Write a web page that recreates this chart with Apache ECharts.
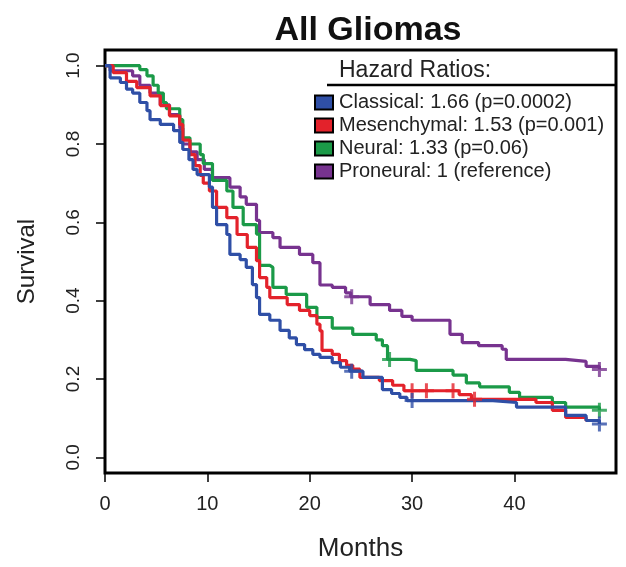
<!DOCTYPE html>
<html>
<head>
<meta charset="utf-8">
<script src="https://cdn.jsdelivr.net/npm/echarts@6/dist/echarts.min.js"></script>
<style>
  html, body { margin: 0; padding: 0; background: #fff; }
  #chart { width: 626px; height: 567px; }
</style>
</head>
<body>
<div id="chart"></div>
<script>
// Kaplan-Meier steps: [month, survival]
var groups = ['Classical', 'Mesenchymal', 'Neural', 'Proneural'];
var hazard = ['1.66 (p=0.0002)', '1.53 (p=0.001)', '1.33 (p=0.06)', '1 (reference)'];
var colors = ['#2f4fa6', '#e3222b', '#1b9a48', '#77338f'];

var classical = [[0,1.0],[0.5,0.969],[1.5,0.957],[2.1,0.94],[2.7,0.93],[3.4,0.906],[4.1,0.885],[4.4,0.862],[5.4,0.85],[6.7,0.834],[7.3,0.804],[7.6,0.786],[8.2,0.76],[8.6,0.735],[9.0,0.722],[10.2,0.69],[10.5,0.638],[10.9,0.594],[11.9,0.569],[12.2,0.518],[13.2,0.505],[13.8,0.485],[14.4,0.441],[14.8,0.408],[15.1,0.365],[16.1,0.35],[17.1,0.324],[18.0,0.305],[18.7,0.288],[19.5,0.275],[20.3,0.263],[21.0,0.255],[22.2,0.242],[23.0,0.23],[23.9,0.22],[25.2,0.204],[27.1,0.173],[28.0,0.163],[28.8,0.153],[29.5,0.145],[37.9,0.14],[40.2,0.128],[45.0,0.107],[47.0,0.094],[48.3,0.085]];
var mesenchymal = [[0,1.0],[0.8,0.982],[2.1,0.96],[3.1,0.944],[4.4,0.923],[5.4,0.898],[6.3,0.872],[7.3,0.85],[7.6,0.81],[8.3,0.773],[8.8,0.745],[9.3,0.72],[9.6,0.70],[10.2,0.68],[10.9,0.638],[11.9,0.612],[12.9,0.569],[13.9,0.536],[14.8,0.502],[15.1,0.459],[15.8,0.434],[16.1,0.408],[17.8,0.39],[19.0,0.375],[20.0,0.362],[20.7,0.34],[21.0,0.323],[21.2,0.273],[22.2,0.263],[22.9,0.247],[23.6,0.235],[24.2,0.225],[24.9,0.204],[26.8,0.196],[28.1,0.184],[29.2,0.17],[34.6,0.16],[35.8,0.148],[42.1,0.14],[43.7,0.12],[45.0,0.102],[47.0,0.094],[48.3,0.085]];
var neural = [[0,1.0],[3.4,0.99],[4.1,0.974],[4.7,0.95],[5.2,0.93],[5.7,0.906],[6.0,0.89],[7.3,0.862],[7.6,0.816],[8.3,0.80],[9.3,0.773],[9.6,0.75],[10.5,0.707],[11.9,0.68],[12.5,0.638],[13.5,0.594],[14.8,0.57],[15.1,0.49],[16.1,0.485],[16.4,0.434],[17.7,0.416],[19.7,0.383],[20.7,0.357],[22.2,0.33],[24.2,0.314],[26.5,0.30],[27.1,0.285],[27.6,0.25],[29.8,0.247],[30.4,0.222],[34.0,0.21],[35.3,0.19],[36.6,0.18],[39.5,0.166],[40.5,0.153],[43.7,0.14],[45.0,0.128],[48.3,0.12]];
var proneural = [[0,1.0],[0.5,0.987],[2.7,0.974],[3.4,0.95],[4.4,0.93],[5.4,0.90],[6.3,0.875],[7.3,0.84],[7.6,0.80],[8.3,0.78],[9.0,0.76],[9.7,0.735],[10.5,0.714],[12.2,0.69],[13.2,0.665],[13.8,0.646],[14.8,0.605],[15.1,0.574],[16.4,0.561],[17.1,0.536],[19.0,0.518],[20.3,0.497],[21.0,0.44],[22.2,0.434],[23.5,0.42],[24.0,0.41],[25.9,0.39],[27.8,0.375],[29.0,0.36],[30.0,0.35],[33.7,0.314],[34.9,0.293],[36.5,0.285],[38.8,0.276],[39.2,0.25],[45.0,0.245],[47.0,0.232],[48.3,0.224]];

// censoring times (the "+" marks)
var censClassical = [24.1, 30.0, 48.3];
var censMesenchymal = [30.0, 31.4, 34.0, 36.1];
var censNeural = [27.8, 48.3];
var censProneural = [24.1, 48.3];

var xTicks = [0, 10, 20, 30, 40];
var yTicks = [0, 0.2, 0.4, 0.6, 0.8, 1.0];

var curves = [classical, mesenchymal, neural, proneural];
var censors = [censClassical, censMesenchymal, censNeural, censProneural];

function survAt(curve, t) {
    var s = 1;
    for (var i = 0; i < curve.length; i++) {
        if (curve[i][0] <= t) s = curve[i][1];
    }
    return s;
}

var plus = 'path://M4,0H6V4H10V6H6V10H4V6H0V4H4Z';
var series = [];
var order = [3, 2, 1, 0];
order.forEach(function (g) {
    series.push({
        name: groups[g],
        type: 'line',
        step: 'end',
        data: curves[g],
        showSymbol: false,
        lineStyle: { color: colors[g], width: 3.2 },
        itemStyle: { color: colors[g] },
        z: 2 + (3 - g)
    });
});
order.forEach(function (g) {
    series.push({
        name: groups[g] + ' censored',
        type: 'scatter',
        symbol: plus,
        symbolSize: 15,
        data: censors[g].map(function (t) { return [t, survAt(curves[g], t)]; }),
        itemStyle: { color: colors[g] },
        z: 10
    });
});

var chart = echarts.init(document.getElementById('chart'));
var font = '"Liberation Sans", Arial, sans-serif';
chart.setOption({
    animation: false,
    textStyle: { fontFamily: font },
    title: {
        text: 'All Gliomas',
        left: 363,
        top: 9,
        textAlign: 'center',
        textStyle: { fontFamily: font, fontSize: 34, fontWeight: 'bold', color: '#111' }
    },
    grid: {
        left: 105, right: 10, top: 50, bottom: 91,
        show: true, borderColor: '#000', borderWidth: 3
    },
    legend: {
        data: groups,
        orient: 'vertical',
        left: 309,
        top: 86,
        padding: 5,
        itemWidth: 18,
        itemHeight: 14,
        itemGap: 0,
        icon: 'rect',
        itemStyle: { borderColor: '#000', borderWidth: 2 },
        textStyle: { fontFamily: font, fontSize: 20, lineHeight: 23, color: '#222', padding: [0, 0, 0, 1] },
        formatter: function (name) { return name + ': ' + hazard[groups.indexOf(name)]; },
        selectedMode: false
    },
    graphic: [
        { type: 'text', left: 339, top: 59, style: { text: 'Hazard Ratios:', font: '23px ' + font, fill: '#222' } },
        { type: 'line', shape: { x1: 327, y1: 85, x2: 616, y2: 85 }, style: { stroke: '#000', lineWidth: 2.5 } },
        { type: 'text', left: 2, top: -21, style: { text: 'B', font: 'bold 26px ' + font, fill: '#222' } }
    ],
    xAxis: {
        type: 'value',
        min: 0,
        max: 49.92,
        name: 'Months',
        nameLocation: 'middle',
        nameGap: 63,
        nameTextStyle: { fontFamily: font, fontSize: 26, color: '#222' },
        axisLine: { show: false, onZero: false },
        axisTick: { show: true, length: 9, lineStyle: { color: '#000', width: 1.5 }, customValues: xTicks },
        axisLabel: { fontSize: 20, color: '#222', margin: 21, customValues: xTicks },
        splitLine: { show: false }
    },
    yAxis: {
        type: 'value',
        min: -0.04,
        max: 1.04,
        name: 'Survival',
        nameLocation: 'middle',
        nameGap: 66,
        nameTextStyle: { fontFamily: font, fontSize: 24, color: '#222' },
        axisLine: { show: false, onZero: false },
        axisTick: { show: true, length: 9, lineStyle: { color: '#000', width: 1.5 }, customValues: yTicks },
        axisLabel: {
            fontSize: 19, color: '#222', rotate: 90, margin: 22, customValues: yTicks,
            formatter: function (v) { return v.toFixed(1); }
        },
        splitLine: { show: false }
    },
    series: series
});
</script>
</body>
</html>
